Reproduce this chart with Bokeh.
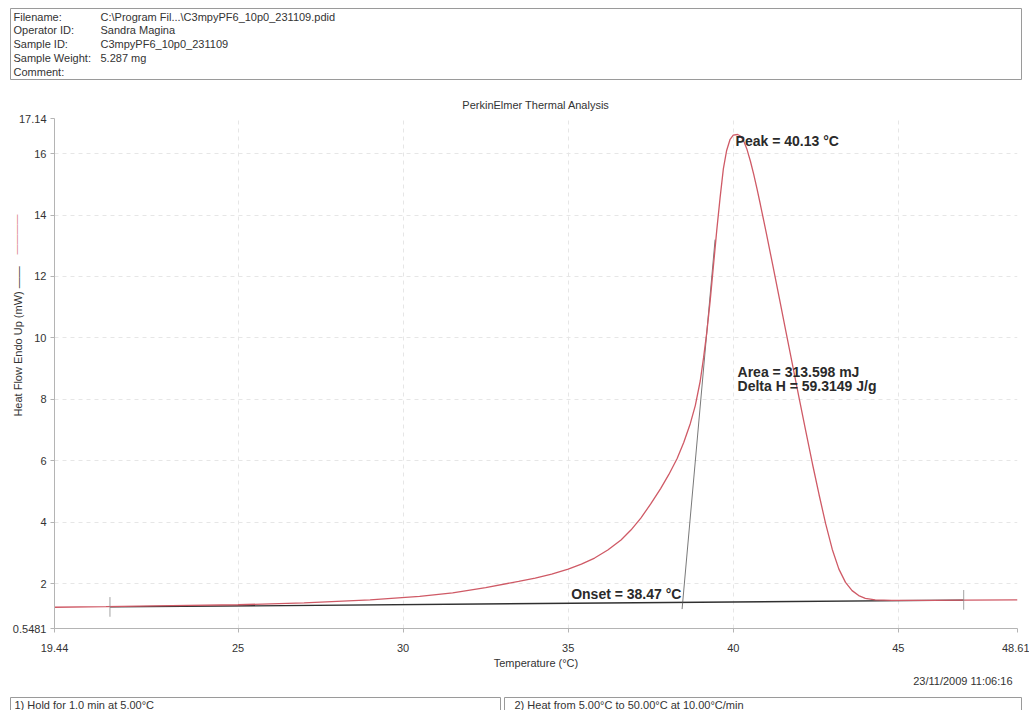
from bokeh.plotting import figure
from bokeh.layouts import column
from bokeh.models import Range1d, FixedTicker, LinearAxis
from bokeh.embed import file_html
from bokeh.resources import INLINE
from bokeh.core.properties import value

# ---------------- data ----------------
temperature = [19.44, 21.0, 23.0, 25.0, 27.0, 29.0, 30.5, 31.5, 32.5, 33.5, 34.0,
               34.5, 35.0, 35.4, 35.8, 36.2, 36.6, 36.9, 37.2, 37.5, 37.8,
               38.05, 38.3, 38.5, 38.7, 38.85, 39.0, 39.1, 39.2, 39.3, 39.4,
               39.5, 39.6, 39.7, 39.8, 39.9, 40.0, 40.13, 40.22, 40.32, 40.42,
               40.52, 40.62, 40.72, 40.82, 41.0, 41.2, 41.4, 41.6, 41.8, 42.0,
               42.2, 42.4, 42.6, 42.8, 43.0, 43.2, 43.4, 43.6, 43.8,
               44.0, 44.3, 44.8, 46.0, 47.0, 48.61]
heat_flow = [1.24, 1.26, 1.29, 1.32, 1.38, 1.48, 1.59, 1.71, 1.88, 2.08, 2.19,
             2.32, 2.48, 2.64, 2.84, 3.1, 3.43, 3.75, 4.14, 4.6, 5.1,
             5.56, 6.08, 6.6, 7.22, 7.8, 8.6, 9.35, 10.2, 11.2, 12.35,
             13.5, 14.55, 15.5, 16.1, 16.45, 16.6, 16.62, 16.57, 16.4, 16.12,
             15.75, 15.32, 14.85, 14.35, 13.42, 12.35, 11.27, 10.18, 9.1, 8.02,
             6.95, 5.9, 4.9, 3.95, 3.12, 2.48, 2.05, 1.78, 1.62,
             1.53, 1.48, 1.46, 1.46, 1.47, 1.48]

baseline_T = [21.12, 46.98]
baseline_HF = [1.25, 1.47]
onset_line_T = [38.45, 39.45]
onset_line_HF = [1.18, 13.2]
limit_T = [21.12, 46.98]
limit_HF = [1.25, 1.48]

peak_T, peak_HF = 40.13, 16.62
onset_T = 38.47
area_text = ["Area = 313.598 mJ", "Delta H = 59.3149 J/g"]

x_ticks = [19.44, 25, 30, 35, 40, 45, 48.61]
x_tick_labels = ["19.44", "25", "30", "35", "40", "45", "48.61"]
y_ticks = [0.5481, 2, 4, 6, 8, 10, 12, 14, 16, 17.14]
y_tick_labels = ["0.5481", "2", "4", "6", "8", "10", "12", "14", "16", "17.14"]
x_min, x_max = 19.44, 48.61
y_min, y_max = 0.5481, 17.14

header_labels = ["Filename:", "Operator ID:", "Sample ID:", "Sample Weight:", "Comment:"]
header_values = ["C:\\Program Fil...\\C3mpyPF6_10p0_231109.pdid", "Sandra Magina",
                 "C3mpyPF6_10p0_231109", "5.287 mg", ""]
step_texts = ["1)  Hold for 1.0 min at 5.00\u00b0C",
              "2)    Heat from 5.00\u00b0C to 50.00\u00b0C at 10.00\u00b0C/min"]
date_text = "23/11/2009 11:06:16"

FONT = "Liberation Sans"
TXT = "#333333"
W = 1029
NB = "\u00a0"


def no_align(fig):
    try:
        fig.frame_align = False
    except Exception:
        pass


# ---------------- header ----------------
h = figure(width=W, height=88, x_range=Range1d(0, W), y_range=Range1d(88, 0),
           output_backend="svg", toolbar_location=None, min_border=0,
           x_axis_location=None, y_axis_location=None)
no_align(h)
h.grid.visible = False
h.outline_line_color = None
h.quad(left=[10], right=[1021], top=[8], bottom=[79], fill_color=None,
       line_color="#9a9a9a", line_width=1)
rows = [16, 29.5, 43, 57, 71]
h.text(x=[13] * 5, y=rows, text=header_labels, text_font=value(FONT),
       text_font_size="11px", text_color=TXT, text_baseline="middle")
h.text(x=[100] * 5, y=rows, text=header_values, text_font=value(FONT),
       text_font_size="11px", text_color=TXT, text_baseline="middle")

# ---------------- main plot ----------------
p = figure(width=W, height=584, x_range=Range1d(x_min, x_max),
           y_range=Range1d(y_min, y_max), output_backend="svg",
           toolbar_location=None, min_border_left=54, min_border_right=12,
           min_border_top=30, min_border_bottom=44,
           title="PerkinElmer Thermal Analysis")
no_align(p)
p.title.align = "center"
p.title.text_font = FONT
p.title.text_font_size = "11px"
p.title.text_font_style = "normal"
p.title.text_color = TXT
p.title.standoff = 15
p.outline_line_color = None

for ax in (p.xaxis[0], p.yaxis[0]):
    ax.axis_line_color = "#b4b4b4"
    ax.major_tick_line_color = "#b4b4b4"
    ax.major_tick_out = 4
    ax.major_tick_in = 0
    ax.minor_tick_line_color = None
    ax.major_label_text_font = FONT
    ax.major_label_text_font_size = "11px"
    ax.major_label_text_color = TXT
    ax.axis_label_text_font = FONT
    ax.axis_label_text_font_size = "11px"
    ax.axis_label_text_font_style = "normal"
    ax.axis_label_text_color = TXT

p.xaxis.ticker = FixedTicker(ticks=x_ticks)
p.xaxis.major_label_overrides = {t: s for t, s in zip(x_ticks, x_tick_labels)}
p.xaxis.major_label_standoff = 11
p.xaxis.axis_label = "Temperature (\u00b0C)"
p.xaxis.axis_label_standoff = 2

p.yaxis.ticker = FixedTicker(ticks=y_ticks)
p.yaxis.major_label_overrides = {t: s for t, s in zip(y_ticks, y_tick_labels)}
p.yaxis.major_label_standoff = 4
p.yaxis.axis_label = NB * 21 + "Heat Flow Endo Up (mW) \u2014\u2014"
p.yaxis.axis_label_standoff = -14

# red legend mark beside the axis title (a tick-less extra axis, label only)
legend_axis = LinearAxis(ticker=FixedTicker(ticks=[]), axis_line_color=None,
                         major_tick_line_color=None, minor_tick_line_color=None,
                         major_tick_out=0, major_tick_in=0,
                         axis_label=NB * 100 + "\u2014\u2014\u2014\u2014",
                         axis_label_standoff=-13,
                         axis_label_text_font=FONT,
                         axis_label_text_font_size="10px",
                         axis_label_text_font_style="normal",
                         axis_label_text_color="#d9808a")
p.add_layout(legend_axis, "left")

p.xgrid.ticker = FixedTicker(ticks=x_ticks)
p.ygrid.ticker = FixedTicker(ticks=y_ticks)
p.grid.grid_line_color = "#e6e6e6"
p.grid.grid_line_dash = "4 4"

# curves
p.line(baseline_T, baseline_HF, line_color="#303030", line_width=1.3)
p.line(onset_line_T, onset_line_HF, line_color="#555555", line_width=0.8)
p.line(temperature, heat_flow, line_color="#cf5a66", line_width=1.3)
p.segment(x0=limit_T, y0=[v - 0.32 for v in limit_HF], x1=limit_T,
          y1=[v + 0.32 for v in limit_HF], line_color="#8a8a8a", line_width=0.8)

ann_style = dict(text_font=value(FONT), text_font_size="14px",
                 text_font_style="bold", text_color="#2a2a2a",
                 text_baseline="middle")
p.text(x=[peak_T - 0.06], y=[16.4], text=["Peak = %.2f \u00b0C" % peak_T],
       text_align="left", **ann_style)
p.text(x=[onset_T - 0.04], y=[1.68], text=["Onset = %.2f \u00b0C" % onset_T],
       text_align="right", **ann_style)
p.text(x=[peak_T, peak_T], y=[8.88, 8.45], text=area_text,
       text_align="left", **ann_style)

# ---------------- footer ----------------
f = figure(width=W, height=38, x_range=Range1d(0, W), y_range=Range1d(38, 0),
           output_backend="svg", toolbar_location=None, min_border=0,
           x_axis_location=None, y_axis_location=None)
no_align(f)
f.grid.visible = False
f.outline_line_color = None
f.quad(left=[10, 504], right=[500, 1021], top=[25, 25], bottom=[60, 60],
       fill_color=None, line_color="#9a9a9a", line_width=1)
f.text(x=[1012], y=[8], text=[date_text], text_font=value(FONT),
       text_font_size="11px", text_color=TXT, text_align="right",
       text_baseline="middle")
f.text(x=[14, 514], y=[32, 32], text=step_texts, text_font=value(FONT),
       text_font_size="11px", text_color=TXT, text_baseline="middle")

layout = column(h, p, f, spacing=0)
open("out.html", "w").write(file_html(layout, INLINE))
